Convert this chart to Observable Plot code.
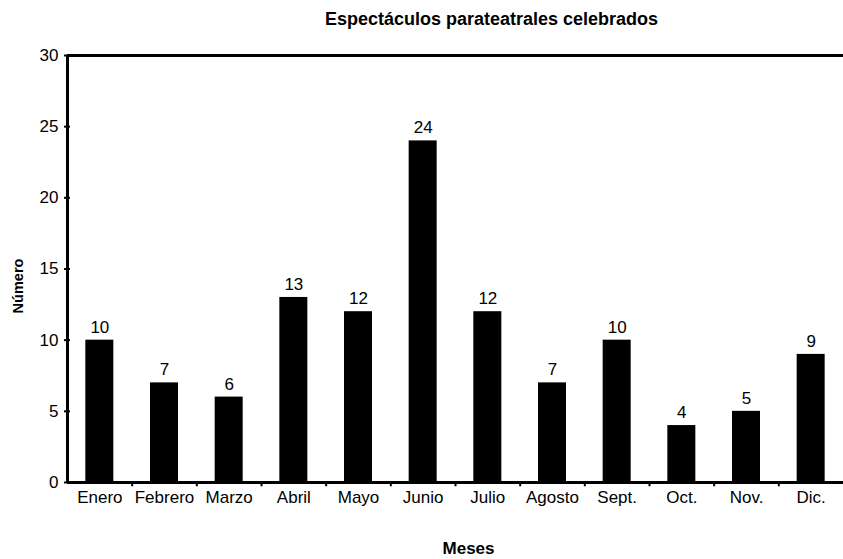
<!DOCTYPE html>
<html>
<head>
<meta charset="utf-8">
<script src="https://cdn.jsdelivr.net/npm/d3@7"></script>
<script src="https://cdn.jsdelivr.net/npm/@observablehq/plot@0.6"></script>
<style>
  html, body { margin: 0; padding: 0; background: #fff; }
  svg { display: block; }
</style>
</head>
<body>
<div id="chart"></div>
<script>
const months = ["Enero", "Febrero", "Marzo", "Abril", "Mayo", "Junio", "Julio", "Agosto", "Sept.", "Oct.", "Nov.", "Dic."];
const values = [10, 7, 6, 13, 12, 24, 12, 7, 10, 4, 5, 9];
const yTicks = [0, 5, 10, 15, 20, 25, 30];
const title = "Espectáculos parateatrales celebrados";
const xLabel = "Meses";
const yLabel = "Número";

const data = months.map((m, i) => ({month: m, value: values[i]}));

const W = 843, H = 559;
const mL = 67, mR = 0, mT = 55, mB = 77;
const bw = (W - mL - mR) / months.length;
const barW = 28;
const inset = (bw - barW) / 2;
const font = "Liberation Sans, Arial, sans-serif";

const chart = Plot.plot({
  width: W,
  height: H,
  marginLeft: mL,
  marginRight: mR,
  marginTop: mT,
  marginBottom: mB,
  style: {fontFamily: font, fontSize: "17px", color: "#000", background: "#fff"},
  x: {domain: months, padding: 0, round: false, label: null},
  y: {domain: [0, 30], label: null},
  marks: [
    Plot.barY(data, {x: "month", y: "value", fill: "#000", insetLeft: inset, insetRight: inset}),
    Plot.text(data, {x: "month", y: "value", text: d => String(d.value), dy: -13, fontSize: 17, fill: "#000"}),
    Plot.axisY({ticks: yTicks, tickSize: 0, tickPadding: 9, fontSize: 17, label: null}),
    Plot.axisY({ticks: yTicks, tickSize: 6, dx: 3, strokeWidth: 2, tickFormat: () => "", label: null}),
    Plot.axisX({tickSize: 0, tickPadding: 8, fontSize: 17, label: null}),
    // band boundary ticks below the axis
    Plot.ruleX(months.slice(1), {x: d => d, dx: -bw / 2, y1: 0, y2: -0.3, stroke: "#000", strokeWidth: 2}),
    // y axis line
    Plot.ruleX([months[0]], {dx: -bw / 2, y1: 0, y2: 30, stroke: "#000", strokeWidth: 3}),
    // bottom and top lines
    Plot.ruleY([0, 30], {stroke: "#000", strokeWidth: 3}),
    // title
    Plot.text([title], {frameAnchor: "top", lineAnchor: "middle", textAnchor: "middle", dx: 36, dy: -36, fontSize: 18, fontWeight: "bold", fill: "#000"}),
    // x label
    Plot.text([xLabel], {frameAnchor: "bottom", lineAnchor: "middle", textAnchor: "middle", dx: 13, dy: 66, fontSize: 17, fontWeight: "bold", fill: "#000"}),
    // y label
    Plot.text([yLabel], {frameAnchor: "left", rotate: -90, lineAnchor: "middle", textAnchor: "middle", dx: -49, dy: 17, fontSize: 14.5, fontWeight: "bold", fill: "#000"})
  ]
});
document.getElementById("chart").appendChild(chart);
</script>
</body>
</html>
